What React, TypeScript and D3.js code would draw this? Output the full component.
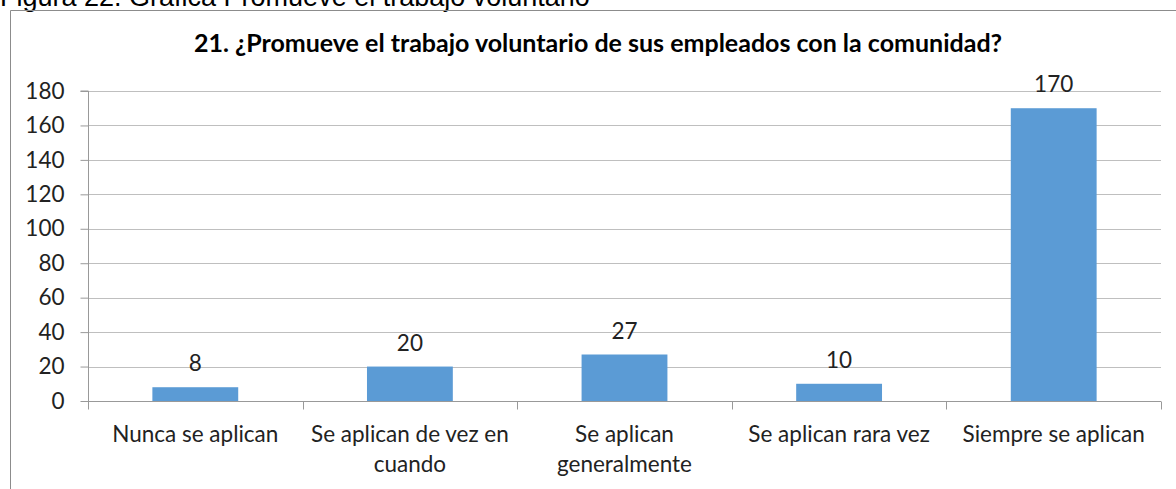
import React, { useRef, useEffect } from "react";
import * as d3 from "d3";

const categories = [
  "Nunca se aplican",
  "Se aplican de vez en cuando",
  "Se aplican generalmente",
  "Se aplican rara vez",
  "Siempre se aplican",
];
const labelLines = [
  ["Nunca se aplican"],
  ["Se aplican de vez en", "cuando"],
  ["Se aplican", "generalmente"],
  ["Se aplican rara vez"],
  ["Siempre se aplican"],
];
const values = [8, 20, 27, 10, 170];
const yTicks = [0, 20, 40, 60, 80, 100, 120, 140, 160, 180];

const title = "21. ¿Promueve el trabajo voluntario de sus empleados con la comunidad?";
const caption = "Figura 22. Gráfica Promueve el trabajo voluntario";

const W = 1176;
const H = 489;
const font = "Lato, 'Open Sans', sans-serif";

const App = () => {
  const ref = useRef<SVGSVGElement>(null);

  useEffect(() => {
    const svg = d3.select(ref.current);
    svg.selectAll("*").remove();

    const margin = { left: 88, right: 15, top: 91, bottom: 88 };

    const x = d3
      .scaleBand()
      .domain(categories)
      .range([margin.left, W - margin.right])
      .paddingInner(0.6)
      .paddingOuter(0.3);

    const y = d3
      .scaleLinear()
      .domain([0, 180])
      .range([H - margin.bottom, margin.top]);

    // caption above the chart frame (cut at the top)
    svg
      .append("text")
      .attr("x", 0)
      .attr("y", 6)
      .attr("font-family", "Arial, 'Liberation Sans', sans-serif")
      .attr("font-size", 27)
      .attr("fill", "#000")
      .text(caption);

    // chart frame
    svg
      .append("path")
      .attr("d", `M10.5,${H}V10.5H${W}`)
      .attr("fill", "none")
      .attr("stroke", "#8c8c8c");

    svg
      .append("text")
      .attr("x", 598)
      .attr("y", 52)
      .attr("text-anchor", "middle")
      .attr("font-family", font)
      .attr("font-weight", "bold")
      .attr("font-size", 25)
      .attr("fill", "#000")
      .text(title);

    // grid
    svg
      .append("g")
      .selectAll("line")
      .data(yTicks.filter((d) => d > 0))
      .enter()
      .append("line")
      .attr("x1", margin.left)
      .attr("x2", W - margin.right)
      .attr("y1", (d) => Math.round(y(d)) + 0.5)
      .attr("y2", (d) => Math.round(y(d)) + 0.5)
      .attr("stroke", "#bfbfbf");

    // y axis
    const yAxis = svg
      .append("g")
      .attr("transform", `translate(${margin.left + 0.5},0)`)
      .call(d3.axisLeft(y).tickValues(yTicks).tickSize(8).tickPadding(16));
    yAxis.select(".domain").attr("stroke", "#999").attr("d", `M-8,${y(180)}H0V${y(0)}`);
    yAxis.selectAll(".tick line").attr("stroke", "#999");
    yAxis
      .selectAll("text")
      .attr("font-family", font)
      .attr("font-size", 22.5)
      .attr("fill", "#222");

    // x axis
    const xg = svg.append("g").attr("transform", `translate(0,${Math.round(y(0)) + 0.5})`);
    xg.append("line")
      .attr("x1", margin.left)
      .attr("x2", W - margin.right)
      .attr("stroke", "#999");
    const step = x.step();
    const bounds = d3.range(categories.length + 1).map((i) => margin.left + i * step);
    xg.selectAll(".xt")
      .data(bounds)
      .enter()
      .append("line")
      .attr("x1", (d) => Math.round(d) + 0.5)
      .attr("x2", (d) => Math.round(d) + 0.5)
      .attr("y1", 0)
      .attr("y2", 8)
      .attr("stroke", "#999");

    labelLines.forEach((lines, i) => {
      const cx = (x(categories[i]) as number) + x.bandwidth() / 2;
      lines.forEach((ln, j) => {
        xg.append("text")
          .attr("x", cx)
          .attr("y", 40 + j * 30)
          .attr("text-anchor", "middle")
          .attr("font-family", font)
          .attr("font-size", 22.5)
          .attr("fill", "#222")
          .text(ln);
      });
    });

    // bars
    svg
      .append("g")
      .selectAll("rect")
      .data(values)
      .enter()
      .append("rect")
      .attr("x", (_, i) => x(categories[i]) as number)
      .attr("y", (d) => y(d))
      .attr("width", x.bandwidth())
      .attr("height", (d) => y(0) - y(d))
      .attr("fill", "#5b9bd5");

    svg
      .append("g")
      .selectAll("text")
      .data(values)
      .enter()
      .append("text")
      .attr("x", (_, i) => (x(categories[i]) as number) + x.bandwidth() / 2)
      .attr("y", (d) => y(d) - 16)
      .attr("text-anchor", "middle")
      .attr("font-family", font)
      .attr("font-size", 22.5)
      .attr("fill", "#222")
      .text((d) => d);
  }, []);

  return (
    <svg
      ref={ref}
      width={W}
      height={H}
      style={{ position: "absolute", left: 0, top: 0, background: "#fff" }}
    />
  );
};

export default App;
